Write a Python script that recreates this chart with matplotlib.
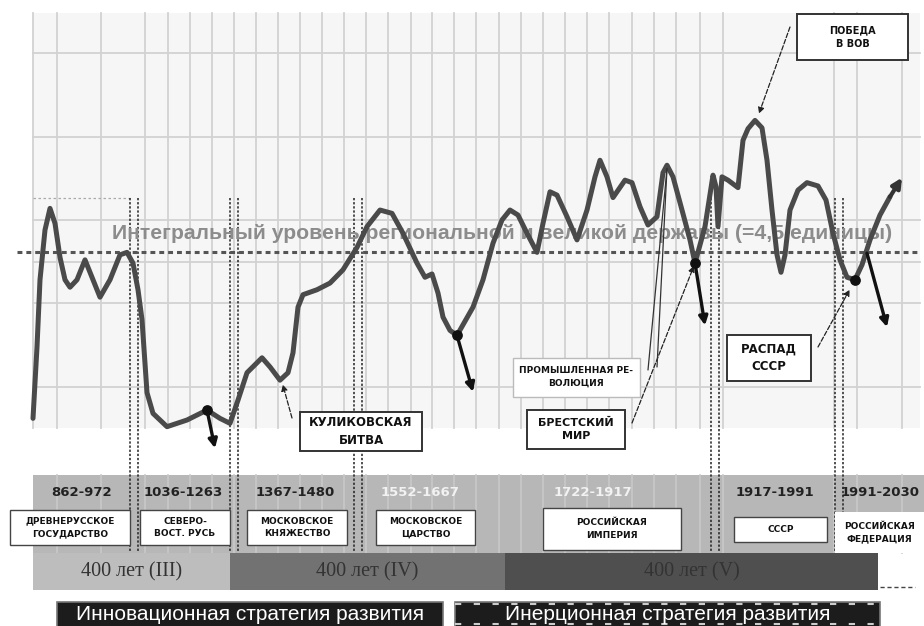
import matplotlib.pyplot as plt
from matplotlib.patches import Rectangle

# ---- данные: кривая уровня (позиция на шкале времени, уровень в единицах) ----
curve_x = [33, 37, 40, 45, 50, 55, 60, 65, 70, 77, 85, 92, 100, 110, 120, 127, 133, 138, 142, 147,
           153, 167, 187, 207, 220, 230, 238, 247, 262, 270, 280, 288, 293, 298, 303, 317, 330, 343,
           357, 367, 380, 392, 403, 417, 425, 432, 438, 443, 450, 457, 473, 483, 493, 502, 510, 518,
           527, 537, 543, 550, 557, 567, 577, 587, 595, 600, 607, 613, 625, 632, 640, 648, 657, 663,
           667, 673, 682, 690, 695, 705, 713, 716, 718, 722, 728, 738, 743, 748, 755, 762, 767, 772,
           777, 781, 785, 790, 798, 807, 818, 826, 833, 840, 847, 855, 862, 870, 880, 890]
curve_y = [2.61, 3.47, 4.28, 4.88, 5.14, 4.96, 4.55, 4.28, 4.19, 4.28, 4.52, 4.31, 4.07, 4.28, 4.58,
           4.61, 4.48, 4.16, 3.80, 2.92, 2.67, 2.51, 2.59, 2.71, 2.61, 2.55, 2.83, 3.16, 3.34, 3.23,
           3.07, 3.16, 3.40, 3.95, 4.10, 4.16, 4.24, 4.40, 4.67, 4.92, 5.12, 5.08, 4.84, 4.48, 4.31,
           4.35, 4.12, 3.83, 3.67, 3.61, 3.95, 4.28, 4.72, 5.00, 5.12, 5.06, 4.84, 4.61, 4.96, 5.34,
           5.30, 5.04, 4.76, 5.12, 5.52, 5.72, 5.52, 5.27, 5.48, 5.45, 5.16, 4.94, 5.04, 5.57, 5.66,
           5.52, 5.12, 4.76, 4.48, 4.92, 5.54, 5.40, 4.92, 5.52, 5.48, 5.39, 5.96, 6.10, 6.20, 6.11,
           5.72, 5.12, 4.58, 4.37, 4.58, 5.12, 5.36, 5.45, 5.41, 5.24, 4.84, 4.52, 4.31, 4.28, 4.46,
           4.76, 5.06, 5.28]
end_point = (902, 5.51)

level = 4.61  # интегральный уровень
level_text = "Интегральный уровень региональной и великой державы (=4,5 единицы)"

# точки перелома и стрелки спада
dot_x = [207, 457, 695, 855]
dot_y = [2.71, 3.61, 4.48, 4.28]
drop_start = [(207, 2.71), (457, 3.61), (695, 4.48), (867, 4.60)]
drop_end = [(215, 2.25), (473, 2.93), (705, 3.73), (887, 3.71)]

# события: текст, рамка (в пикселях), куда указывает (позиция, уровень), откуда линия
events = [
    ("ПОБЕДА\nВ ВОВ", (797, 14, 908, 60), (758, 6.25), (790, 27), 7),
    ("БРЕСТСКИЙ\nМИР", (527, 410, 625, 449), (695, 4.48), (632, 423), 8),
    ("РАСПАД\nСССР", (727, 335, 811, 381), (851, 4.19), (818, 347), 8.5),
    ("КУЛИКОВСКАЯ\nБИТВА", (300, 412, 422, 451), (282, 3.05), (292, 418), 8.5),
]

# периоды государственности
period_dates = ["862-972", "1036-1263", "1367-1480", "1552-1667", "1722-1917", "1917-1991", "1991-2030"]
period_date_x = [82, 183, 295, 420, 593, 775, 880]
period_date_col = ["#222", "#222", "#222", "#f2f2f2", "#f2f2f2", "#222", "#222"]
period_names = ["ДРЕВНЕРУССКОЕ\nГОСУДАРСТВО", "СЕВЕРО-\nВОСТ. РУСЬ", "МОСКОВСКОЕ\nКНЯЖЕСТВО",
                "МОСКОВСКОЕ\nЦАРСТВО", "РОССИЙСКАЯ\nИМПЕРИЯ", "СССР", "РОССИЙСКАЯ\nФЕДЕРАЦИЯ"]
period_boxes = [(10, 510, 130, 545), (140, 510, 230, 545), (247, 510, 347, 545), (376, 510, 475, 545),
                (543, 508, 681, 550), (734, 517, 827, 542), (835, 512, 924, 553)]
separators = [130, 230, 354, 711, 835]

epochs = ["400 лет (III)", "400 лет (IV)", "400 лет (V)"]
epoch_span = [(33, 230), (230, 505), (505, 878)]
epoch_col = ["#bdbdbd", "#727272", "#4f4f4f"]

strategies = ["Инновационная стратегия развития", "Инерционная стратегия развития"]
strategy_span = [(57, 443), (455, 880)]

grid_x = [33, 57, 101, 145, 168, 190, 212, 234, 256, 278, 300, 322, 344, 366, 388, 411, 432,
          454, 476, 499, 521, 543, 565, 587, 609, 632, 654, 676, 700, 723, 834, 857, 902]
grid_y = [53, 137, 220, 262, 303, 387]

fig = plt.figure(figsize=(9.24, 6.26), dpi=100)
base = fig.add_axes([0, 0, 1, 1])
base.set_xlim(0, 924)
base.set_ylim(626, 0)
base.axis("off")

# поле графика
base.add_patch(Rectangle((33, 13), 887, 415, facecolor="#f6f6f6", edgecolor="none", zorder=0))
for gx in grid_x:
    base.plot([gx, gx], [13, 428], color="#d2d2d2", lw=1.3, zorder=1)
for gy in grid_y:
    base.plot([33, 920], [gy, gy], color="#d2d2d2", lw=1.3, zorder=1)
base.plot([33, 130], [198, 198], color="#aaaaaa", lw=0.9, ls=(0, (2, 2)), zorder=2)

# полоса периодов
base.add_patch(Rectangle((33, 475), 891, 78, facecolor="#b7b7b7", edgecolor="none", zorder=1))
for gx in grid_x[1:]:
    base.plot([gx, gx], [475, 553], color="#c8c8c8", lw=1.2, zorder=1.5)
for txt, x, c in zip(period_dates, period_date_x, period_date_col):
    base.text(x, 493, txt, ha="center", va="center", fontsize=9.5, fontweight="bold",
              color=c, family="DejaVu Sans", zorder=4)
for i, (txt, (x0, y0, x1, y1)) in enumerate(zip(period_names, period_boxes)):
    ec = "none" if i == len(period_names) - 1 else "#444444"
    base.add_patch(Rectangle((x0, y0), x1 - x0, y1 - y0, facecolor="white", edgecolor=ec,
                             lw=1.0, zorder=3))
    base.text((x0 + x1) / 2, (y0 + y1) / 2, txt, ha="center", va="center", fontsize=6.5,
              fontweight="bold", color="#111", linespacing=1.5, zorder=4)

for sx in separators:
    for dx in (0, 8):
        base.plot([sx + dx, sx + dx], [198, 552], color="#222", lw=1.1, ls=(0, (1.5, 1.2)), zorder=2.5)

# эпохи по 400 лет
for txt, (x0, x1), c in zip(epochs, epoch_span, epoch_col):
    base.add_patch(Rectangle((x0, 553), x1 - x0, 37, facecolor=c, edgecolor="none", zorder=3))
    base.text((x0 + x1) / 2, 572, txt, ha="center", va="center", fontsize=14.5,
              family="Liberation Serif", color="#333333", zorder=4)
base.plot([880, 915], [587, 587], color="#444", lw=1, ls=(0, (3, 2)), zorder=3)

# стратегии
for txt, (x0, x1) in zip(strategies, strategy_span):
    base.add_patch(Rectangle((x0, 602), x1 - x0, 30, facecolor="#1c1c1c", edgecolor="#777",
                             lw=1.2, zorder=3))
    base.text((x0 + x1) / 2, 614, txt, ha="center", va="center", fontsize=15,
              family="Liberation Sans", color="white", zorder=4)
x0, x1 = strategy_span[1]
base.plot([x0, x1], [604, 604], color="#cccccc", lw=1.5, ls=(0, (3, 6)), zorder=3.5)
base.plot([x0, x1], [624, 624], color="#cccccc", lw=1.5, ls=(0, (3, 6)), zorder=3.5)

# рамка "Промышленная революция"
base.add_patch(Rectangle((513, 358), 127, 39, facecolor="white", edgecolor="#bbbbbb", lw=1, zorder=3))
base.text(576, 377, "ПРОМЫШЛЕННАЯ РЕ-\nВОЛЮЦИЯ", ha="center", va="center", fontsize=6.5,
          fontweight="bold", color="#111", linespacing=1.5, zorder=4)

# ---- ось уровня поверх ----
ax = fig.add_axes([0, 0, 1, 1])
ax.set_xlim(0, 924)
ax.set_ylim(4 + (303 - 626) / 83, 4 + 303 / 83)
ax.patch.set_alpha(0)
ax.axis("off")

ax.plot([17, 918], [level, level], color="#555555", lw=2.2, ls=(0, (1.6, 1.3)), zorder=2)
ax.text(502, 4.84, level_text, ha="center", va="center", fontsize=15.2, fontweight="bold",
        family="Liberation Sans", color="#8c8c8c", zorder=2)

ax.plot(curve_x, curve_y, color="#4a4a4a", lw=3.6, solid_joinstyle="round",
        solid_capstyle="round", zorder=4)
ax.annotate("", xy=end_point, xytext=(curve_x[-1], curve_y[-1]),
            arrowprops=dict(arrowstyle="-|>", color="#333", lw=3, mutation_scale=14,
                            shrinkA=0, shrinkB=0), zorder=5)

for s, e in zip(drop_start, drop_end):
    ax.annotate("", xy=e, xytext=s,
                arrowprops=dict(arrowstyle="-|>", color="#111", lw=2.4, mutation_scale=13,
                                shrinkA=0, shrinkB=0), zorder=5)
ax.scatter(dot_x, dot_y, s=45, color="#111", zorder=6)

for txt, (x0, y0, x1, y1), target, src, fs in events:
    base.add_patch(Rectangle((x0, y0), x1 - x0, y1 - y0, facecolor="white", edgecolor="#333",
                             lw=1.4, zorder=5))
    base.text((x0 + x1) / 2, (y0 + y1) / 2, txt, ha="center", va="center", fontsize=fs,
              fontweight="bold", color="#111", linespacing=1.4, zorder=6)
    ax.annotate("", xy=target, xytext=src, textcoords=base.transData,
                arrowprops=dict(arrowstyle="-|>", color="#222", lw=0.9, ls="--",
                                mutation_scale=9, shrinkA=0, shrinkB=2), zorder=5)

for src in [(648, 370), (657, 367)]:
    ax.annotate("", xy=(667, 5.62), xytext=src, textcoords=base.transData,
                arrowprops=dict(arrowstyle="-", color="#333", lw=0.9, shrinkA=0, shrinkB=0),
                zorder=5)

fig.savefig("out.png", dpi=100)
